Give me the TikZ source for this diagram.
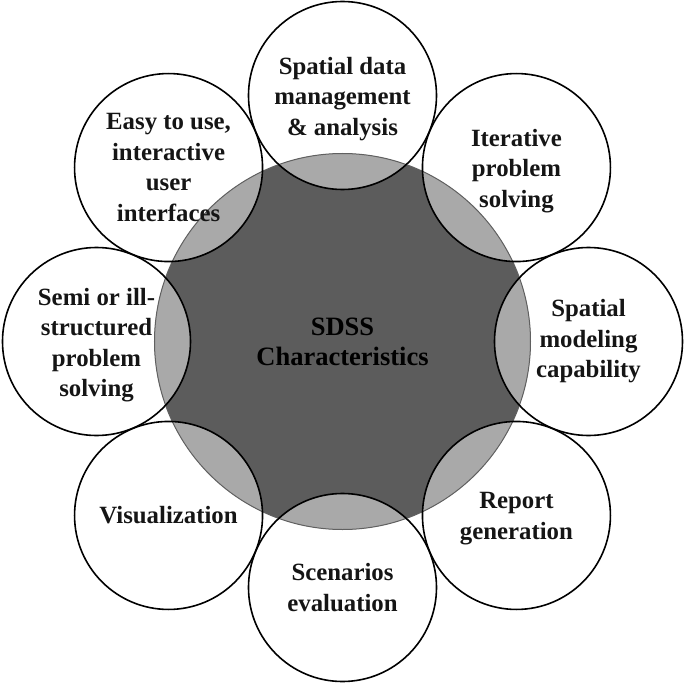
\documentclass[tikz,border=0pt]{standalone}
\usepackage{fontspec}
\setmainfont{Liberation Serif}
\definecolor{coredark}{HTML}{5C5C5C}
\definecolor{corelight}{HTML}{A9A9A9}
\definecolor{coreedge}{HTML}{606060}
\definecolor{inkc}{HTML}{151515}
\tikzset{
  outercirc/.style={circle, draw=black, line width=1.6pt, minimum size=188pt, inner sep=0pt,
    align=center, text=inkc, font=\bfseries\fontsize{24.8}{30.5}\selectfont},
  corecirc/.style={circle, draw=coreedge, line width=1pt, minimum size=376pt, inner sep=0pt,
    align=center, text=black, font=\bfseries\fontsize{26.5}{30}\selectfont}
}
\begin{document}
\begin{tikzpicture}[x=1pt,y=1pt]
\useasboundingbox (-342.5,-341.5) rectangle (342.5,341.5);
\fill[coredark] (0,0) circle (188);
\begin{scope}
  \clip (0,0) circle (188);
  \foreach \a in {0,45,...,315} \fill[corelight] (\a:246) circle (94);
\end{scope}
\node[corecirc] (core) at (0,0) {SDSS\\Characteristics};
\node[outercirc] (spd) at (90:246) {};
\node[outercirc] (itr) at (45:246) {};
\node[outercirc] (mod) at (0:246) {Spatial\\modeling\\capability};
\node[outercirc] (rep) at (-45:246) {};
\node[outercirc] (scn) at (-90:246) {Scenarios\\evaluation};
\node[outercirc] (vis) at (-135:246) {Visualization};
\node[outercirc] (semi) at (180:246) {};
\node[outercirc] (easy) at (135:246) {Easy to use,\\interactive\\user\\interfaces};
\node[outercirc, draw=none, yshift=-3.5pt] (spdt) at (spd) {Spatial data\\management\\\& analysis};
\node[outercirc, draw=none, yshift=-3.5pt] (itrt) at (itr) {Iterative\\problem\\solving};
\node[outercirc, draw=none, yshift=-3pt] (rept) at (rep) {Report\\generation};
\node[outercirc, draw=none, yshift=-3.5pt] (semit) at (semi) {Semi or ill-\\structured\\problem\\solving};
\end{tikzpicture}
\end{document}
